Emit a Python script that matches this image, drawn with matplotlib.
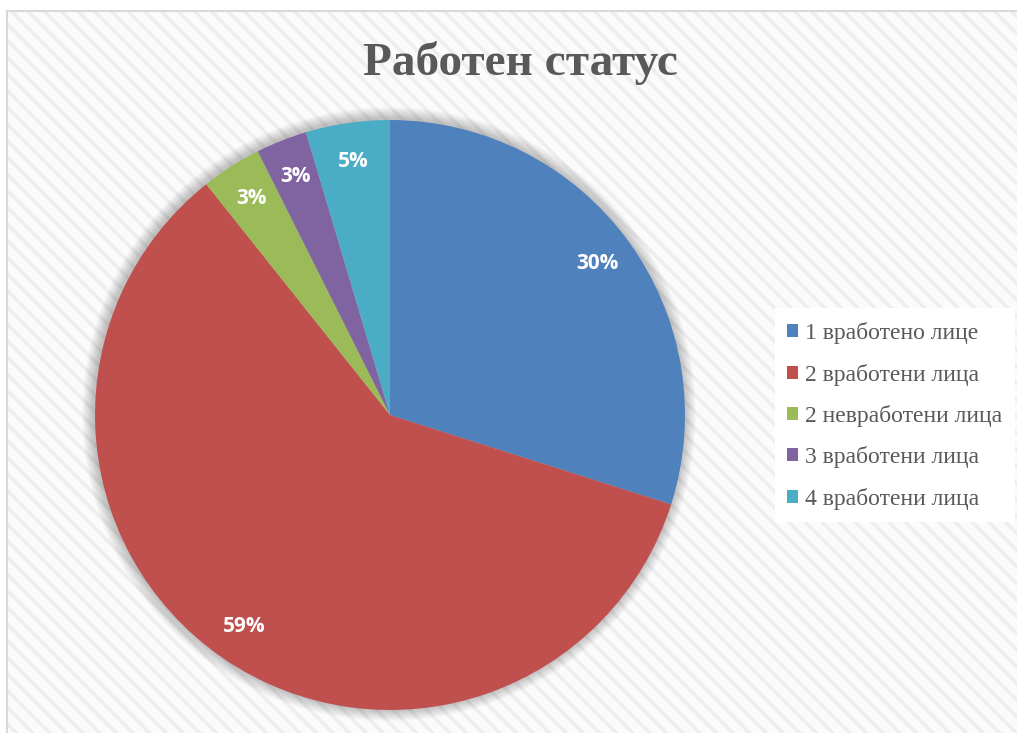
import matplotlib.pyplot as plt
from matplotlib.patches import Rectangle, Circle

plt.rcParams['hatch.linewidth'] = 2.5

# data
TITLE = 'Работен статус'
labels = ['1 вработено лице', '2 вработени лица', '2 невработени лица',
          '3 вработени лица', '4 вработени лица']
shares = [29.9, 59.4, 3.3, 2.8, 4.6]
colors = ['#4F81BD', '#C0504D', '#9BBB59', '#8064A2', '#4BACC6']

W, H = 1017, 733
GREY = '#595959'

fig = plt.figure(figsize=(W / 100, H / 100), dpi=100)
fig.patch.set_facecolor('white')
ax = fig.add_axes([0, 0, 1, 1])

# striped background and border
ax.add_patch(Rectangle((7, -5), W + 20, H - 11 + 5, facecolor='#fbfbfb',
                       edgecolor='#eeeeee', hatch='\\\\', lw=0, zorder=0))
ax.add_patch(Rectangle((7, -5), W + 20, H - 11 + 5, facecolor='none',
                       edgecolor='#d9d9d9', lw=1.5, zorder=0.5))

cx, cy, r = 390, H - 415, 295

# soft shadow behind the pie
for k in range(12, 0, -1):
    ax.add_patch(Circle((cx - 1, cy + 1), r + k, color='black',
                        alpha=0.018, lw=0, zorder=1))

wedges, texts, autotexts = ax.pie(
    shares, colors=colors, startangle=90, counterclock=False,
    center=(cx, cy), radius=r, autopct='%.0f%%', pctdistance=0.87,
    textprops=dict(color='white', fontweight='bold', fontsize=15,
                   family='Open Sans'),
    wedgeprops=dict(linewidth=0, zorder=2))
for w in wedges:
    w.set_zorder(2)
for t in autotexts:
    t.set_zorder(3)

ax.set_xlim(0, W)
ax.set_ylim(0, H)
ax.set_aspect('auto')
ax.axis('off')

ax.text(520, H - 75, TITLE, ha='center', va='baseline', fontsize=34,
        fontweight='bold', family='Liberation Serif', color=GREY)

# legend box
ax.add_patch(Rectangle((775, H - 522), 240, 214, facecolor='white',
                       edgecolor='none', zorder=2))
leg = ax.legend(wedges, labels, loc='center left',
                bbox_to_anchor=(766 / W, 1 - 416 / H),
                frameon=False, handlelength=0.47, handleheight=0.47,
                handletextpad=0.3, labelspacing=0.82,
                prop=dict(family='Liberation Serif', size=17))
for t in leg.get_texts():
    t.set_color(GREY)

fig.savefig('out.png', dpi=100)
